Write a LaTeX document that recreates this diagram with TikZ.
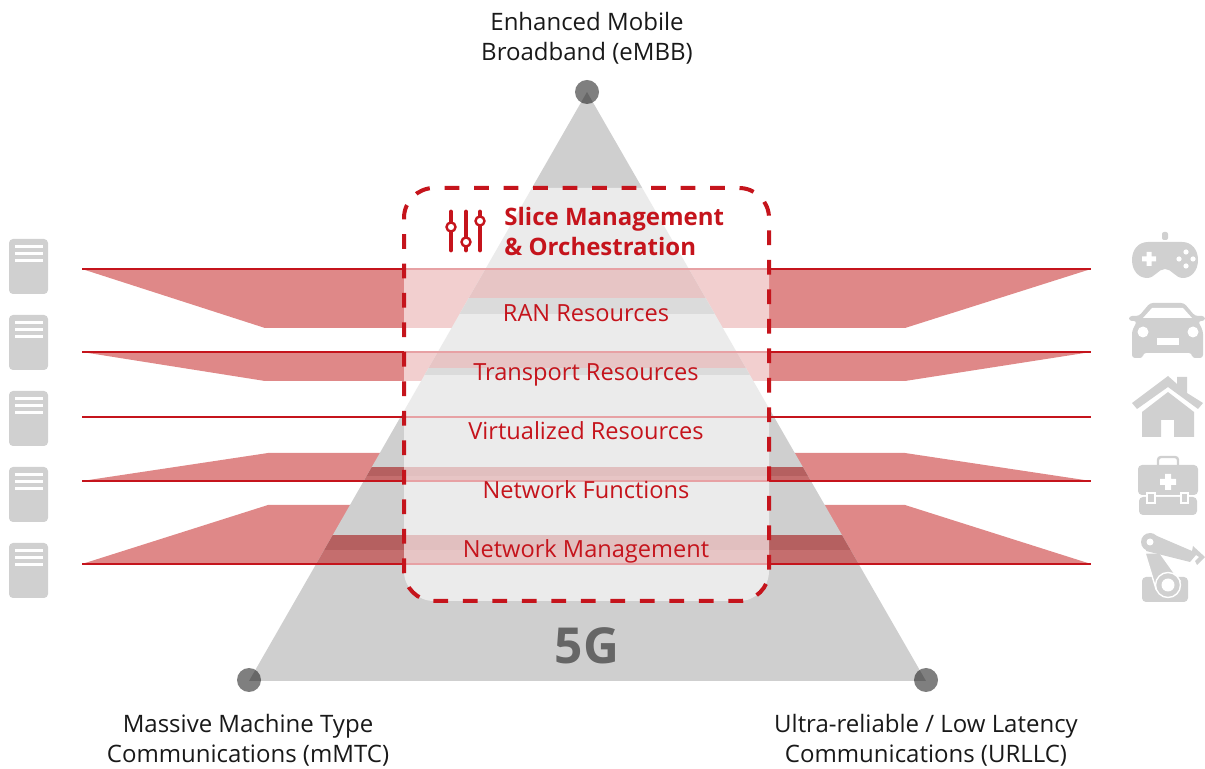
\documentclass[tikz,border=0pt]{standalone}
\usepackage{fontspec}
\setmainfont{Open Sans}
\definecolor{redline}{HTML}{C5141C}
\definecolor{redfill}{HTML}{DF8888}
\definecolor{redgray}{HTML}{C56E6E}
\definecolor{reddark}{HTML}{B56060}
\definecolor{trigray}{HTML}{CFCFCF}
\definecolor{bandgray}{HTML}{A7A7A7}
\definecolor{icongray}{HTML}{D0D0D0}
\tikzset{
  edgeline/.style={redline,line width=1pt},
  vertexdot/.style={circle,fill=black,fill opacity=0.5,minimum size=12pt,inner sep=0pt},
  biglabel/.style={align=center,text=black!90,font=\fontsize{12}{15}\selectfont},
  layerlabel/.style={anchor=base,text=redline,font=\fontsize{11.8}{15}\selectfont},
  server/.style={fill=icongray,rounded corners=2pt},
  serverline/.style={white,line width=1.5pt},
  icon/.style={fill=icongray},
  gap/.style={fill=white}
}
\begin{document}
\begin{tikzpicture}[x=0.5pt,y=-0.5pt]
\useasboundingbox (0,0) rectangle (1205,769);
% red layers behind the triangle
\fill [redfill] (82,269)--(265,328)--(905,328)--(1091,269)--cycle;
\fill [redfill] (82,352)--(265,381)--(905,381)--(1091,352)--cycle;
\fill [redfill] (82,481)--(268,453)--(905,453)--(1091,481)--cycle;
\fill [redfill] (82,564)--(268,505)--(905,505)--(1091,564)--cycle;
% triangle
\coordinate (top) at (587,92);
\coordinate (left) at (249,681);
\coordinate (right) at (926,681);
\fill [trigray] (top)--(left)--(right)--cycle;
\begin{scope}
\clip (top)--(left)--(right)--cycle;
\fill [redgray] (82,269) rectangle (1091,298);
\fill [bandgray] (82,298) rectangle (1091,314);
\fill [redgray] (82,352) rectangle (1091,368);
\fill [bandgray] (82,368) rectangle (1091,375);
\fill [reddark] (82,467) rectangle (1091,476);
\fill [redgray] (82,476) rectangle (1091,481);
\fill [reddark] (82,535) rectangle (1091,550);
\fill [redgray] (82,550) rectangle (1091,564);
\end{scope}
% edge lines
\draw [edgeline] (82,269)--(1091,269);
\draw [edgeline] (82,352)--(1091,352);
\draw [edgeline] (82,417)--(1091,417);
\draw [edgeline] (82,481)--(1091,481);
\draw [edgeline] (82,564)--(1091,564);
% slice box
\fill [white,fill opacity=0.6,rounded corners=15pt] (404,188) rectangle (769,601);
\draw [redline,line width=2pt,dash pattern=on 7.375pt off 7.375pt,rounded corners=15pt] (404,263)--(404,601)--(769,601)--(769,188)--(404,188)--cycle;
% corners
\node [vertexdot] (embb) at (top) {};
\node [vertexdot] (mmtc) at (249,680) {};
\node [vertexdot] (urllc) at (926,680) {};
\node [biglabel] (embblabel) at (587,38) {Enhanced Mobile\\Broadband (eMBB)};
\node [biglabel] (mmtclabel) at (248,740) {Massive Machine Type\\Communications (mMTC)};
\node [biglabel] (urllclabel) at (926,740) {Ultra-reliable / Low Latency\\Communications (URLLC)};
\node [text=black!60,font=\fontsize{24.8}{24.8}\selectfont\bfseries] (fiveg) at (587,646) {5G};
% layers
\node [layerlabel] (ran) at (586,322) {RAN Resources};
\node [layerlabel] (transport) at (586,381) {Transport Resources};
\node [layerlabel] (virtual) at (586,440) {Virtualized Resources};
\node [layerlabel] (functions) at (586,499) {Network Functions};
\node [layerlabel] (management) at (586,558) {Network Management};
\node [anchor=west,align=left,text=redline,font=\fontsize{12}{15}\selectfont\bfseries,inner sep=0pt] (slice) at (504,232) {Slice Management\\\& Orchestration};
% sliders
\draw [redline,line width=2.4pt,line cap=round] (451,212)--(451,250) (466,212)--(466,250) (480,212)--(480,250);
\draw [redline,line width=1.2pt,fill=white] (451,227) circle (4.5) (466,242) circle (4.5) (480,221) circle (4.5);
% servers
\foreach \y in {239,315,391,467,543} {
  \fill [server] (9,\y) rectangle (48,\y+55);
  \draw [serverline] (15,\y+8)--(43,\y+8) (15,\y+15)--(43,\y+15) (15,\y+22)--(43,\y+22);
}
% gamepad
\fill [icon,rounded corners=1pt] (1162,232) rectangle (1168,240);
\fill [icon] (1148,242)--(1182,242) .. controls (1192,242) and (1198,250) .. (1198,260) .. controls (1198,271) and (1191,278) .. (1183,278) .. controls (1175,278) and (1172,269) .. (1165,269) .. controls (1158,269) and (1155,278) .. (1147,278) .. controls (1139,278) and (1132,271) .. (1132,260) .. controls (1132,250) and (1138,242) .. (1148,242)--cycle;
\fill [gap] (1146.5,252) rectangle (1151.5,266) (1142,256.5) rectangle (1156,261.5);
\fill [gap] (1186,252) circle (2.6) (1186,266) circle (2.6) (1179,259) circle (2.6) (1193,259) circle (2.6);
% car
\fill [icon,rounded corners=1.5pt] (1150,303)--(1184,303)--(1195,316)--(1205,316)--(1205,321)--(1198,321)--(1203,331)--(1203,358)--(1192,358)--(1192,353)--(1143,353)--(1143,358)--(1132,358)--(1132,331)--(1137,321)--(1129,321)--(1129,316)--(1139,316)--cycle;
\fill [gap] (1143,318)--(1152,308)--(1183,308)--(1192,318)--cycle;
\fill [gap] (1143,332) circle (5.5) (1193,332) circle (5.5);
\fill [gap] (1157,338) rectangle (1179,345);
% house
\fill [icon] (1168,376)--(1177,384)--(1177,377)--(1187,377)--(1187,393)--(1203,403)--(1198,409)--(1168,387)--(1137,409)--(1132,403)--cycle;
\fill [icon] (1168,392)--(1194,412)--(1194,437)--(1174,437)--(1174,420)--(1161,420)--(1161,437)--(1142,437)--(1142,412)--cycle;
% case
\draw [icongray,line width=1.2pt,rounded corners=1.5pt] (1158,465)--(1158,457)--(1178,457)--(1178,465);
\fill [icon,rounded corners=2pt] (1138,465) rectangle (1198,495);
\fill [icon,rounded corners=2pt] (1139,497) rectangle (1197,515);
\fill [gap] (1165,474) rectangle (1171,490) (1160,479) rectangle (1176,485);
\draw [white,line width=0.6pt,fill=icongray] (1147,493) rectangle (1155,503) (1181,493) rectangle (1188,503);
% robot
\fill [icon,rounded corners=2pt] (1142,577) rectangle (1188,602);
\draw [white,line width=0.7pt,fill=icongray] (1145,553)--(1156,589)--(1180,581)--(1160,553)--cycle;
\draw [white,line width=0.7pt,fill=icongray] (1168,585) circle (12.5);
\fill [gap] (1168,585) circle (6.5);
\fill [icon] (1150,533)--(1192,551)--(1193,546)--(1205,557)--(1197,565)--(1195,561)--(1199,557)--(1196,555)--(1190,562)--(1146,551)--cycle;
\fill [icon] (1150,542) circle (9);
\fill [gap] (1150,542) circle (3.5);
\end{tikzpicture}
\end{document}
